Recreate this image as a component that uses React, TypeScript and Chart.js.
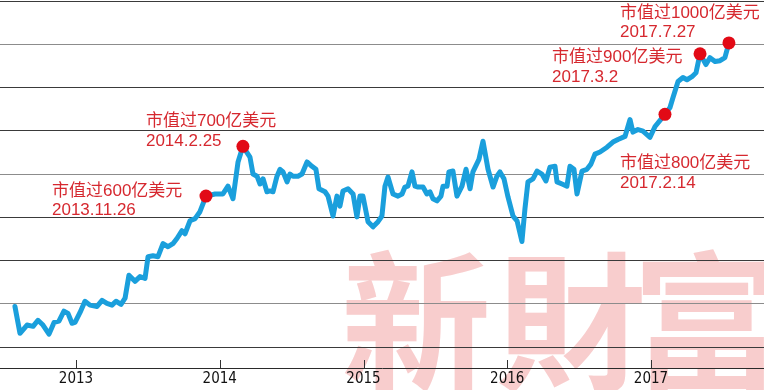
import { useEffect, useRef } from "react";
import { Chart, registerables } from "chart.js";

Chart.register(...registerables);

// Decimal years (x) and price level in grid units (y)
const dates = [
  2012.575, 2012.61, 2012.659, 2012.701, 2012.735, 2012.77, 2012.812, 2012.847, 2012.881, 2012.916,
  2012.944, 2012.972, 2012.993, 2013.028, 2013.062, 2013.097, 2013.146, 2013.181, 2013.215, 2013.25,
  2013.278, 2013.313, 2013.341, 2013.368, 2013.41, 2013.445, 2013.48, 2013.501, 2013.535, 2013.57,
  2013.605, 2013.64, 2013.674, 2013.702, 2013.737, 2013.758, 2013.793, 2013.828, 2013.862, 2013.904,
  2013.967, 2014.022, 2014.057, 2014.092, 2014.127, 2014.161, 2014.21, 2014.231, 2014.259, 2014.28,
  2014.301, 2014.328, 2014.349, 2014.37, 2014.398, 2014.419, 2014.44, 2014.468, 2014.488, 2014.509,
  2014.544, 2014.572, 2014.607, 2014.641, 2014.669, 2014.69, 2014.732, 2014.753, 2014.788, 2014.815,
  2014.836, 2014.857, 2014.892, 2014.927, 2014.954, 2014.975, 2014.996, 2015.031, 2015.066, 2015.101,
  2015.128, 2015.149, 2015.17, 2015.205, 2015.24, 2015.268, 2015.288, 2015.309, 2015.337, 2015.358,
  2015.379, 2015.414, 2015.441, 2015.462, 2015.483, 2015.511, 2015.539, 2015.553, 2015.581, 2015.594,
  2015.622, 2015.65, 2015.685, 2015.713, 2015.741, 2015.761, 2015.803, 2015.831, 2015.866, 2015.901,
  2015.928, 2015.949, 2015.977, 2016.005, 2016.04, 2016.068, 2016.102, 2016.123, 2016.144, 2016.179,
  2016.207, 2016.241, 2016.269, 2016.297, 2016.332, 2016.346, 2016.381, 2016.415, 2016.436, 2016.464,
  2016.485, 2016.52, 2016.554, 2016.582, 2016.61, 2016.645, 2016.694, 2016.735, 2016.77, 2016.819,
  2016.854, 2016.874, 2016.909, 2016.944, 2016.993, 2017.028, 2017.097, 2017.132, 2017.153, 2017.188,
  2017.222, 2017.25, 2017.285, 2017.313, 2017.341, 2017.382, 2017.41, 2017.445, 2017.48, 2017.514,
  2017.542,
];

const values = [
  0.94, 0.32, 0.51, 0.48, 0.62, 0.51, 0.3, 0.57, 0.6, 0.83,
  0.78, 0.55, 0.57, 0.8, 1.06, 0.97, 0.94, 1.08, 1.01, 0.97,
  1.06, 0.99, 1.13, 1.66, 1.52, 1.63, 1.59, 2.09, 2.11, 2.09,
  2.39, 2.32, 2.39, 2.51, 2.69, 2.62, 2.92, 2.97, 3.13, 3.49,
  3.54, 3.54, 3.72, 3.43, 4.28, 4.64, 4.39, 4.0, 3.95, 3.77,
  3.89, 3.59, 3.61, 3.59, 3.95, 4.11, 4.05, 3.82, 4.0, 3.95,
  3.95, 4.0, 4.28, 4.18, 4.11, 3.66, 3.59, 3.49, 3.03, 3.49,
  3.26, 3.61, 3.66, 3.54, 3.01, 3.49, 3.49, 2.9, 2.78, 2.9,
  3.03, 3.72, 3.93, 3.54, 3.49, 3.54, 3.7, 3.72, 4.05, 3.72,
  3.7, 3.7, 3.54, 3.59, 3.43, 3.38, 3.49, 3.72, 3.72, 4.05,
  4.07, 3.49, 3.72, 4.11, 3.66, 4.05, 4.34, 4.76, 4.11, 3.7,
  3.95, 4.05, 3.89, 3.47, 3.03, 2.92, 2.44, 3.2, 3.82, 3.89,
  4.07, 4.0, 3.84, 4.16, 4.18, 3.82, 3.77, 3.72, 4.18, 4.11,
  3.54, 4.07, 4.11, 4.23, 4.46, 4.51, 4.62, 4.74, 4.8, 4.87,
  5.26, 4.97, 5.03, 4.99, 4.85, 5.1, 5.38, 5.54, 5.77, 6.14,
  6.23, 6.18, 6.25, 6.34, 6.78, 6.53, 6.69, 6.6, 6.62, 6.69,
  7.03,
];

const milestoneDates = [2013.904, 2014.161, 2017.097, 2017.341, 2017.542];
const milestoneValues = [3.49, 4.64, 5.38, 6.78, 7.03];
const milestoneTitles = [
  "市值过600亿美元",
  "市值过700亿美元",
  "市值过800亿美元",
  "市值过900亿美元",
  "市值过1000亿美元",
];
const milestoneDateLabels = ["2013.11.26", "2014.2.25", "2017.2.14", "2017.3.2", "2017.7.27"];

const yearTicks = [2013, 2014, 2015, 2016, 2017];
const gridValues = [0, 1, 2, 3, 4, 5, 6, 7, 8];
const watermarkChars = ["新", "財", "富"];

// layout / style (not data)
const labelOffsets = [
  { dx: -154, dy: -5 },
  { dx: -97, dy: -25 },
  { dx: -45, dy: 49 },
  { dx: -148, dy: 4 },
  { dx: -109, dy: -30 },
];
const lightGrid = [1, 4, 7];
const RED_TEXT = "#d6282f";
const RED_DOT = "#e20a16";
const BLUE = "#1a9fdc";

const watermarkPlugin = {
  id: "watermark",
  beforeDraw(chart: any) {
    const { ctx } = chart;
    ctx.save();
    ctx.fillStyle = "#f8cdcd";
    ctx.font = 'bold 150px "Noto Sans CJK TC", "Noto Sans CJK SC", sans-serif';
    ctx.textAlign = "center";
    ctx.textBaseline = "alphabetic";
    const centers = [416, 571, 707];
    watermarkChars.forEach((c, i) => {
      ctx.fillText(c, centers[i], 379);
    });
    ctx.restore();
  },
};

const innerTicksPlugin = {
  id: "innerTicks",
  afterDraw(chart: any) {
    const { ctx, chartArea } = chart;
    const x = chart.scales.x;
    ctx.save();
    ctx.strokeStyle = "#333";
    ctx.lineWidth = 1;
    yearTicks.forEach((t) => {
      const px = Math.round(x.getPixelForValue(t)) + 0.5;
      ctx.beginPath();
      ctx.moveTo(px, chartArea.bottom - 8);
      ctx.lineTo(px, chartArea.bottom);
      ctx.stroke();
    });
    ctx.restore();
  },
};

const annotationPlugin = {
  id: "milestoneLabels",
  afterDatasetsDraw(chart: any) {
    const { ctx } = chart;
    const x = chart.scales.x;
    const y = chart.scales.y;
    ctx.save();
    ctx.fillStyle = RED_TEXT;
    ctx.font = '17px "Liberation Sans", "Noto Sans CJK SC", sans-serif';
    ctx.textAlign = "left";
    ctx.textBaseline = "middle";
    milestoneDates.forEach((d, i) => {
      const px = x.getPixelForValue(d);
      const py = y.getPixelForValue(milestoneValues[i]);
      const o = labelOffsets[i];
      ctx.fillText(milestoneTitles[i], px + o.dx, py + o.dy);
      ctx.fillText(milestoneDateLabels[i], px + o.dx, py + o.dy + 19.5);
    });
    ctx.restore();
  },
};

export default function App() {
  const ref = useRef<HTMLCanvasElement | null>(null);

  useEffect(() => {
    if (!ref.current) return;
    const chart = new Chart(ref.current, {
      type: "line",
      data: {
        datasets: [
          {
            type: "scatter",
            data: milestoneDates.map((d, i) => ({ x: d, y: milestoneValues[i] })),
            backgroundColor: RED_DOT,
            borderWidth: 0,
            pointRadius: 6.5,
          } as any,
          {
            type: "line",
            data: dates.map((d, i) => ({ x: d, y: values[i] })),
            borderColor: BLUE,
            borderWidth: 5,
            pointRadius: 0,
            tension: 0,
            borderJoinStyle: "round",
            borderCapStyle: "round",
            fill: false,
          },
        ],
      },
      options: {
        animation: false,
        responsive: false,
        devicePixelRatio: 1,
        layout: { autoPadding: false, padding: { top: 1, left: 0, right: 0, bottom: 0 } },
        plugins: {
          legend: { display: false },
          tooltip: { enabled: false },
        },
        scales: {
          x: {
            type: "linear",
            min: 2012.471,
            max: 2017.786,
            afterBuildTicks: (axis: any) => {
              axis.ticks = yearTicks.map((v) => ({ value: v }));
            },
            grid: { display: false, drawTicks: false },
            border: { display: true, color: "#2a2a2a", width: 1 },
            ticks: {
              padding: 2,
              color: "#111",
              font: {
                family: '"Liberation Sans Narrow", "DejaVu Sans Condensed", sans-serif',
                size: 15,
              },
              callback: (v: any) => String(v),
              maxRotation: 0,
            },
          },
          y: {
            type: "linear",
            min: -0.483,
            max: 8,
            afterBuildTicks: (axis: any) => {
              axis.ticks = gridValues.map((v) => ({ value: v }));
            },
            grid: {
              drawTicks: false,
              color: (c: any) => (lightGrid.includes(c.index) ? "#8c8c8c" : "#3a3a3a"),
              lineWidth: 1,
            },
            border: { display: false },
            ticks: { display: false },
          },
        },
      },
      plugins: [watermarkPlugin, innerTicksPlugin, annotationPlugin],
    });
    return () => chart.destroy();
  }, []);

  return (
    <div style={{ position: "fixed", left: 0, top: 0, width: 764, height: 390, background: "#fff" }}>
      <canvas ref={ref} width={764} height={390} style={{ display: "block" }} />
    </div>
  );
}
